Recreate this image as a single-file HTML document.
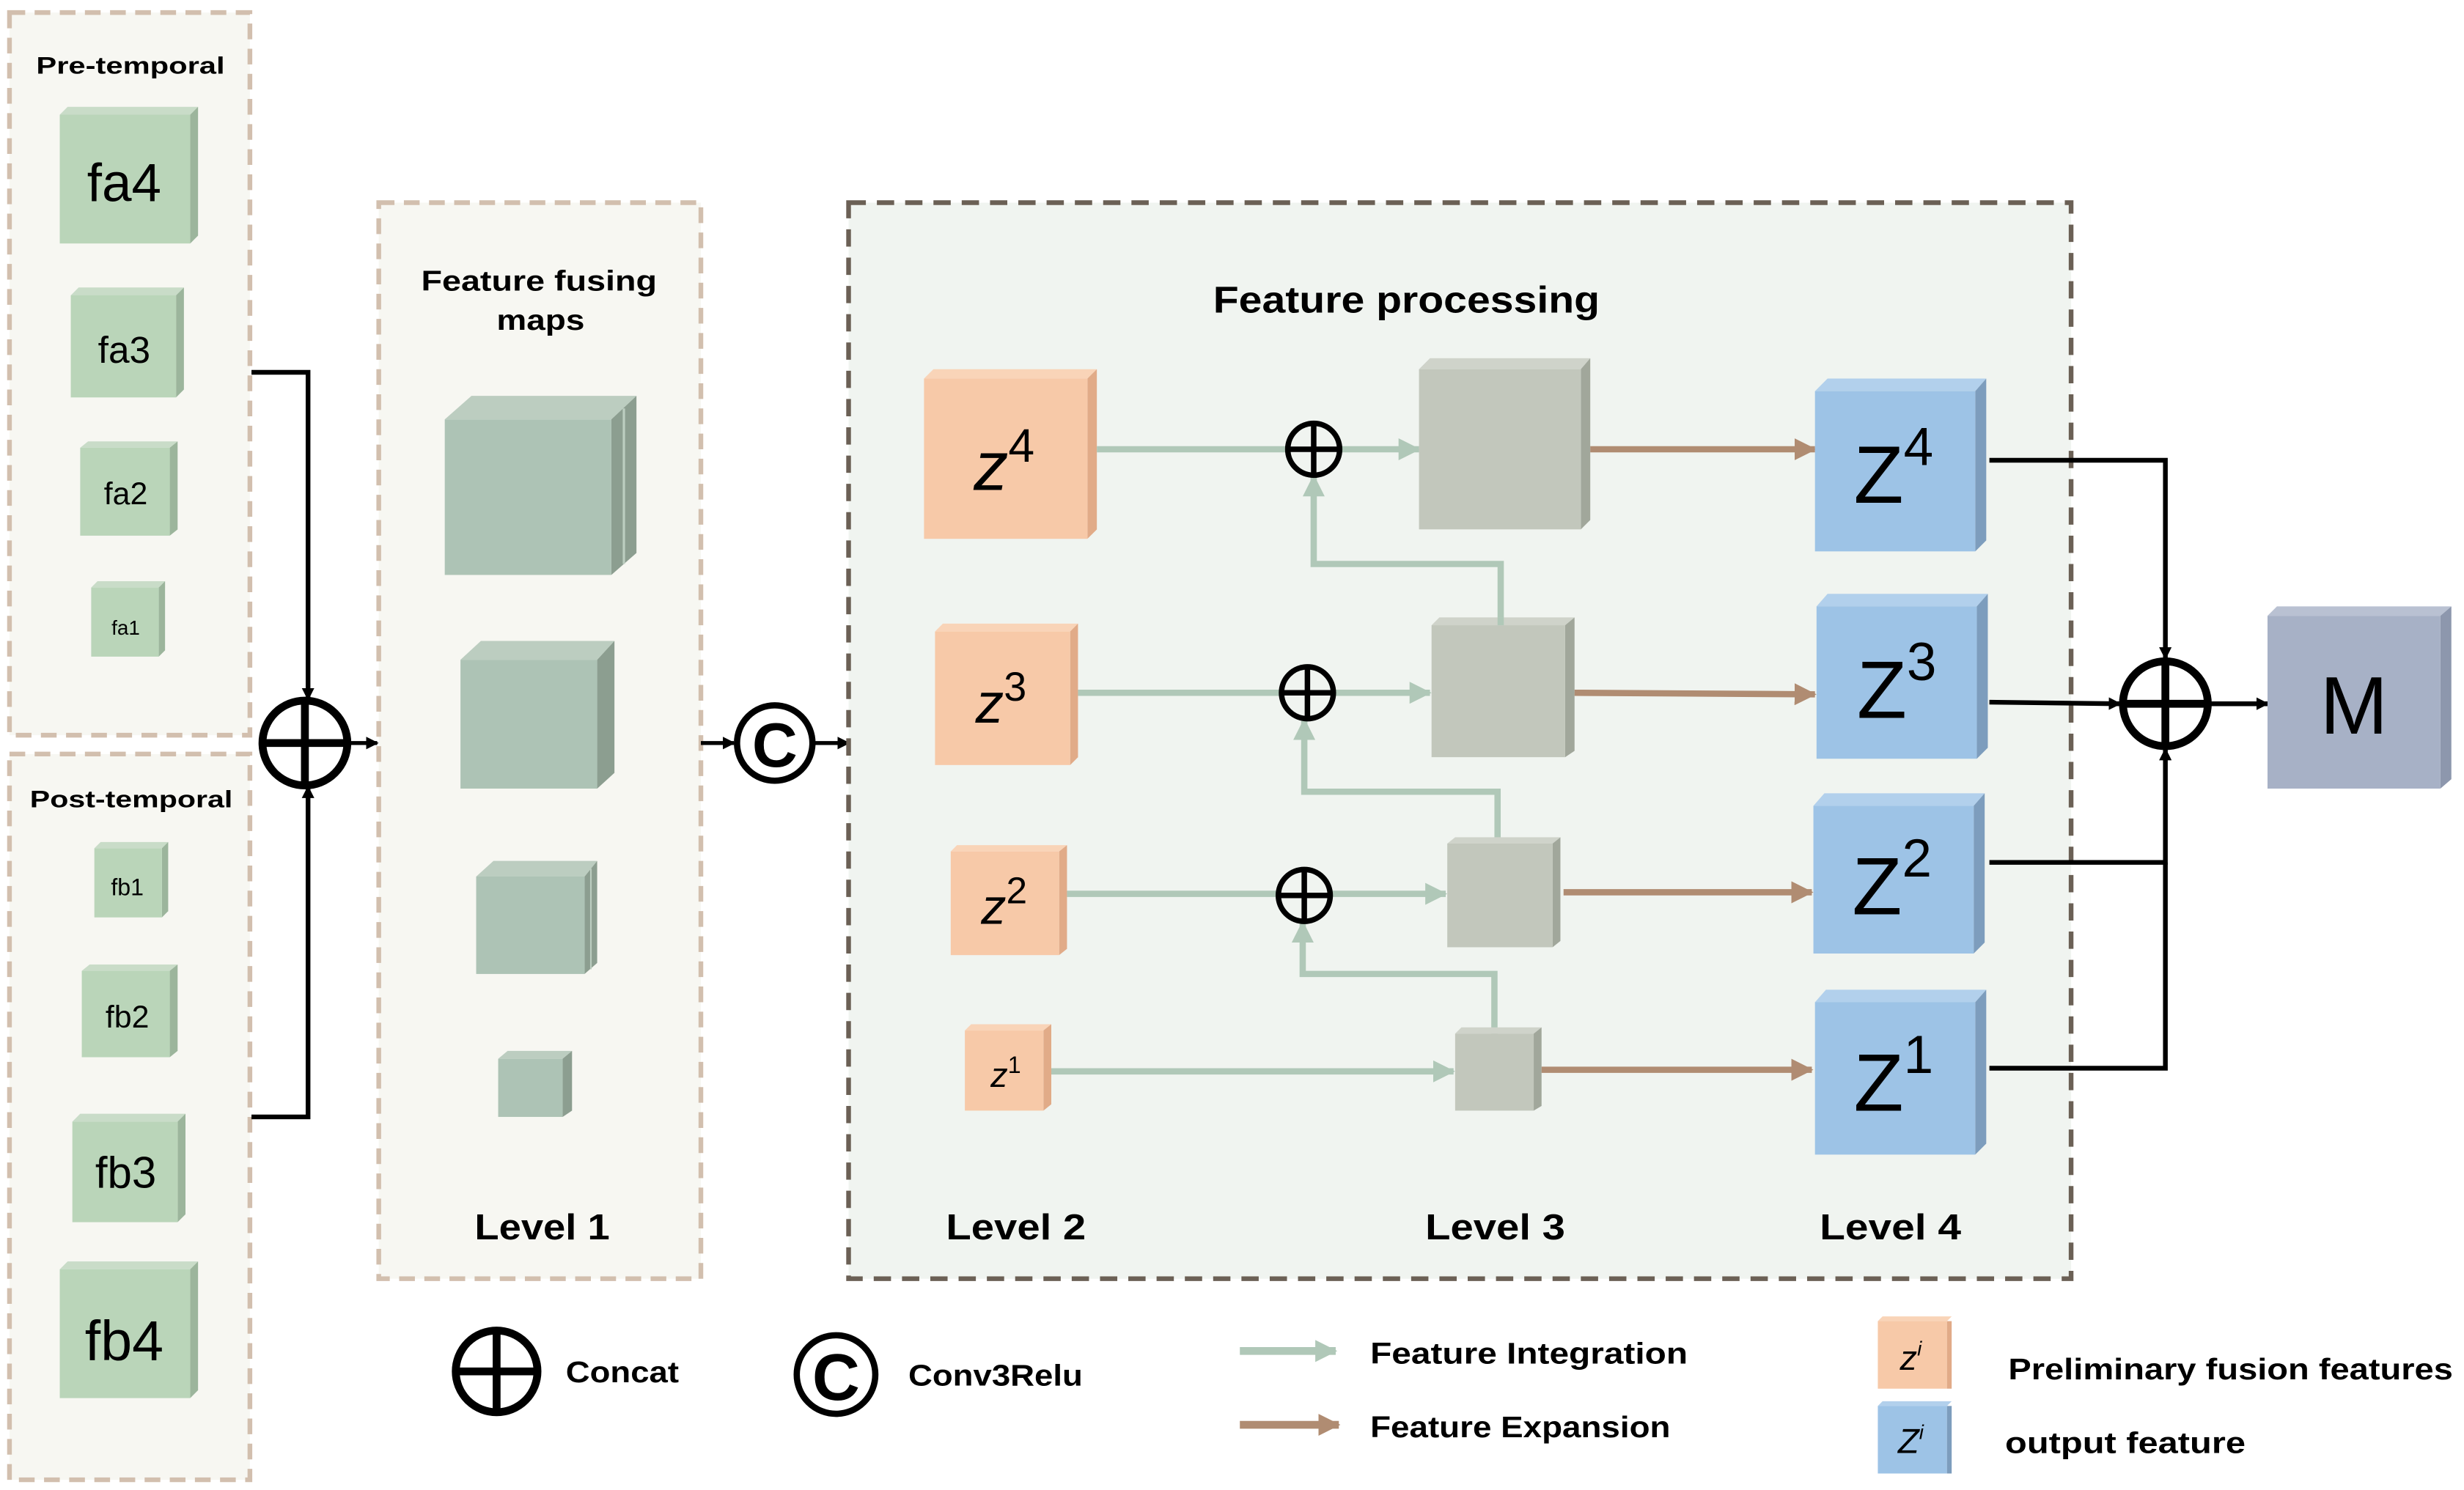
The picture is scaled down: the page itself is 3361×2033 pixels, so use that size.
<!DOCTYPE html>
<html><head><meta charset="utf-8"><style>
html,body{margin:0;padding:0;background:#fff;}
svg{display:block;}
text{font-family:"Liberation Sans",sans-serif;}
.b{font-weight:bold;}
</style></head><body>
<svg width="3361" height="2033" viewBox="0 0 1568 948.5" xmlns="http://www.w3.org/2000/svg">
<defs>
<marker id="ak" markerWidth="8" markerHeight="8" refX="7" refY="4" orient="auto" markerUnits="userSpaceOnUse"><path d="M0,0 L8,4 L0,8 z" fill="#000"/></marker>
<marker id="ag" markerWidth="14" markerHeight="14" refX="13" refY="7" orient="auto" markerUnits="userSpaceOnUse"><path d="M0,0 L14,7 L0,14 z" fill="#b0c8b8"/></marker>
<marker id="ab" markerWidth="14" markerHeight="14" refX="13" refY="7" orient="auto" markerUnits="userSpaceOnUse"><path d="M0,0 L14,7 L0,14 z" fill="#b08c72"/></marker>
</defs>

<rect x="6" y="8" width="153" height="460" fill="#f7f7f2" stroke="#d2bfae" stroke-width="3" stroke-dasharray="10,6"/>
<rect x="6" y="480" width="153" height="462" fill="#f7f7f2" stroke="#d2bfae" stroke-width="3" stroke-dasharray="10,6"/>
<text x="23" y="47" class="b" font-size="15" textLength="120" lengthAdjust="spacingAndGlyphs">Pre-temporal</text>
<text x="19" y="514" class="b" font-size="15" textLength="129" lengthAdjust="spacingAndGlyphs">Post-temporal</text>

<polygon points="38,73 43,68 126,68 121,73" fill="#c9dcc8"/><polygon points="121,73 126,68 126,150 121,155" fill="#9cb59c"/><rect x="38" y="73" width="83" height="82" fill="#bad5b9"/>
<text x="79" y="128" font-size="34" text-anchor="middle">fa4</text>
<polygon points="45,188 50,183 117,183 112,188" fill="#c9dcc8"/><polygon points="112,188 117,183 117,248 112,253" fill="#9cb59c"/><rect x="45" y="188" width="67" height="65" fill="#bad5b9"/>
<text x="79" y="231" font-size="24" text-anchor="middle">fa3</text>
<polygon points="51,285 56,281 113,281 108,285" fill="#c9dcc8"/><polygon points="108,285 113,281 113,337 108,341" fill="#9cb59c"/><rect x="51" y="285" width="57" height="56" fill="#bad5b9"/>
<text x="80" y="321" font-size="20" text-anchor="middle">fa2</text>
<polygon points="58,374 62,370 105,370 101,374" fill="#c9dcc8"/><polygon points="101,374 105,370 105,414 101,418" fill="#9cb59c"/><rect x="58" y="374" width="43" height="44" fill="#bad5b9"/>
<text x="80" y="404" font-size="13" text-anchor="middle">fa1</text>
<polygon points="60,540 64,536 107,536 103,540" fill="#c9dcc8"/><polygon points="103,540 107,536 107,580 103,584" fill="#9cb59c"/><rect x="60" y="540" width="43" height="44" fill="#bad5b9"/>
<text x="81" y="570" font-size="15" text-anchor="middle">fb1</text>
<polygon points="52,618 57,614 113,614 108,618" fill="#c9dcc8"/><polygon points="108,618 113,614 113,669 108,673" fill="#9cb59c"/><rect x="52" y="618" width="56" height="55" fill="#bad5b9"/>
<text x="81" y="654" font-size="20" text-anchor="middle">fb2</text>
<polygon points="46,714 51,709 118,709 113,714" fill="#c9dcc8"/><polygon points="113,714 118,709 118,773 113,778" fill="#9cb59c"/><rect x="46" y="714" width="67" height="64" fill="#bad5b9"/>
<text x="80" y="756" font-size="28" text-anchor="middle">fb3</text>
<polygon points="38,808 43,803 126,803 121,808" fill="#c9dcc8"/><polygon points="121,808 126,803 126,885 121,890" fill="#9cb59c"/><rect x="38" y="808" width="83" height="82" fill="#bad5b9"/>
<text x="79" y="866" font-size="36" text-anchor="middle">fb4</text>

<polyline points="160,237 196,237 196,445" fill="none" stroke="#000" stroke-width="3" marker-end="url(#ak)"/>
<polyline points="160,711 196,711 196,501" fill="none" stroke="#000" stroke-width="3" marker-end="url(#ak)"/>
<circle cx="194" cy="473" r="27" fill="none" stroke="#000" stroke-width="5"/>
<line x1="167" y1="473" x2="221" y2="473" stroke="#000" stroke-width="5"/>
<line x1="194" y1="446" x2="194" y2="500" stroke="#000" stroke-width="5"/>
<line x1="221" y1="473" x2="240" y2="473" stroke="#000" stroke-width="2.5" marker-end="url(#ak)"/>

<rect x="241" y="129" width="205" height="685" fill="#f7f7f2" stroke="#d2bfae" stroke-width="3" stroke-dasharray="10,6"/>
<text x="268" y="185" class="b" font-size="18" textLength="150" lengthAdjust="spacingAndGlyphs">Feature fusing</text>
<text x="316" y="210" class="b" font-size="18" textLength="56" lengthAdjust="spacingAndGlyphs">maps</text>
<polygon points="283,267 300,252 405,252 389,267" fill="#bccdc0"/>
<polygon points="389,267 405,252 405,352 389,366" fill="#8c9e90"/>
<line x1="397" y1="260" x2="397" y2="359" stroke="#bccdc0" stroke-width="1.5"/>
<rect x="283" y="267" width="106" height="99" fill="#adc3b5"/>
<polygon points="293,420 306,408 391,408 380,420" fill="#bccdc0"/>
<polygon points="380,420 391,408 391,492 380,502" fill="#8c9e90"/>
<rect x="293" y="420" width="87" height="82" fill="#adc3b5"/>
<polygon points="303,558 314,548 380,548 372,558" fill="#bccdc0"/>
<polygon points="372,558 380,548 380,613 372,620" fill="#8c9e90"/>
<line x1="376" y1="553" x2="376" y2="617" stroke="#bccdc0" stroke-width="1"/>
<rect x="303" y="558" width="69" height="62" fill="#adc3b5"/>
<polygon points="317,674 323,669 364,669 358,674" fill="#bccdc0"/>
<polygon points="358,674 364,669 364,707 358,711" fill="#8c9e90"/>
<rect x="317" y="674" width="41" height="37" fill="#adc3b5"/>
<text x="302" y="789" class="b" font-size="23" textLength="86" lengthAdjust="spacingAndGlyphs">Level 1</text>

<line x1="446" y1="473" x2="467" y2="473" stroke="#000" stroke-width="2.5" marker-end="url(#ak)"/>
<circle cx="493" cy="473" r="24" fill="#fff" stroke="#000" stroke-width="4"/>
<text x="493" y="488" class="b" font-size="40" text-anchor="middle">C</text>
<line x1="517" y1="473" x2="540" y2="473" stroke="#000" stroke-width="2.5" marker-end="url(#ak)"/>

<rect x="540" y="129" width="778" height="685" fill="#f0f4f0" stroke="#6b6055" stroke-width="3" stroke-dasharray="11,7"/>
<text x="772" y="199" class="b" font-size="24" textLength="246" lengthAdjust="spacingAndGlyphs">Feature processing</text>

<polygon points="588,241 594,235 698,235 692,241" fill="#f9d4b8"/><polygon points="692,241 698,235 698,337 692,343" fill="#e1ab88"/><rect x="588" y="241" width="104" height="102" fill="#f7c9a8"/>
<text x="639" y="312" font-size="44" font-style="italic" text-anchor="middle">z<tspan font-size="30" font-style="normal" dy="-18">4</tspan></text>
<polygon points="595,402 600,397 686,397 681,402" fill="#f9d4b8"/><polygon points="681,402 686,397 686,482 681,487" fill="#e1ab88"/><rect x="595" y="402" width="86" height="85" fill="#f7c9a8"/>
<text x="637" y="460" font-size="36" font-style="italic" text-anchor="middle">z<tspan font-size="26" font-style="normal" dy="-14">3</tspan></text>
<polygon points="605,542 609,538 679,538 674,542" fill="#f9d4b8"/><polygon points="674,542 679,538 679,604 674,608" fill="#e1ab88"/><rect x="605" y="542" width="69" height="66" fill="#f7c9a8"/>
<text x="639" y="588" font-size="32" font-style="italic" text-anchor="middle">z<tspan font-size="24" font-style="normal" dy="-13">2</tspan></text>
<polygon points="614,656 618,652 669,652 664,656" fill="#f9d4b8"/><polygon points="664,656 669,652 669,703 664,707" fill="#e1ab88"/><rect x="614" y="656" width="50" height="51" fill="#f7c9a8"/>
<text x="640" y="692" font-size="22" font-style="italic" text-anchor="middle">z<tspan font-size="15" font-style="normal" dy="-9">1</tspan></text>

<g stroke="#b0c8b8" stroke-width="4" fill="none">
<line x1="698" y1="286" x2="819" y2="286"/>
<line x1="853" y1="286" x2="903" y2="286" marker-end="url(#ag)"/>
<line x1="686" y1="441" x2="815" y2="441"/>
<line x1="849" y1="441" x2="910" y2="441" marker-end="url(#ag)"/>
<line x1="679" y1="569" x2="813" y2="569"/>
<line x1="847" y1="569" x2="920" y2="569" marker-end="url(#ag)"/>
<line x1="669" y1="682" x2="925" y2="682" marker-end="url(#ag)"/>
<polyline points="955,398 955,359 836,359 836,303" marker-end="url(#ag)"/>
<polyline points="953,537 953,504 830,504 830,458" marker-end="url(#ag)"/>
<polyline points="951,658 951,620 829,620 829,587" marker-end="url(#ag)"/>
</g>
<g stroke="#000" stroke-width="3.5" fill="none">
<circle cx="836" cy="286" r="16.5"/><line x1="820" y1="286" x2="852" y2="286"/><line x1="836" y1="270" x2="836" y2="302"/>
<circle cx="832" cy="441" r="16.5"/><line x1="816" y1="441" x2="848" y2="441"/><line x1="832" y1="425" x2="832" y2="457"/>
<circle cx="830" cy="570" r="16.5"/><line x1="814" y1="570" x2="846" y2="570"/><line x1="830" y1="554" x2="830" y2="586"/>
</g>

<polygon points="903,235 910,228 1012,228 1006,235" fill="#cfd3ca"/><polygon points="1006,235 1012,228 1012,331 1006,337" fill="#a1a79b"/><rect x="903" y="235" width="103" height="102" fill="#c2c7bc"/>
<polygon points="911,398 916,393 1002,393 996,398" fill="#cfd3ca"/><polygon points="996,398 1002,393 1002,478 996,482" fill="#a1a79b"/><rect x="911" y="398" width="85" height="84" fill="#c2c7bc"/>
<polygon points="921,537 926,533 993,533 988,537" fill="#cfd3ca"/><polygon points="988,537 993,533 993,599 988,603" fill="#a1a79b"/><rect x="921" y="537" width="67" height="66" fill="#c2c7bc"/>
<polygon points="926,658 930,654 981,654 976,658" fill="#cfd3ca"/><polygon points="976,658 981,654 981,704 976,707" fill="#a1a79b"/><rect x="926" y="658" width="50" height="49" fill="#c2c7bc"/>
<line x1="955" y1="393" x2="955" y2="398" stroke="#b0c8b8" stroke-width="4"/>

<g stroke="#b08c72" stroke-width="4">
<line x1="1012" y1="286" x2="1155" y2="286" marker-end="url(#ab)"/>
<line x1="1002" y1="441" x2="1155" y2="442" marker-end="url(#ab)"/>
<line x1="995" y1="568" x2="1153" y2="568" marker-end="url(#ab)"/>
<line x1="981" y1="681" x2="1153" y2="681" marker-end="url(#ab)"/>
</g>

<polygon points="1155,249 1163,241 1264,241 1257,249" fill="#b2d0ec"/><polygon points="1257,249 1264,241 1264,344 1257,351" fill="#7d9dbd"/><rect x="1155" y="249" width="102" height="102" fill="#9dc3e6"/>
<text x="1205" y="320" font-size="52" text-anchor="middle">Z<tspan font-size="34" dy="-24">4</tspan></text>
<polygon points="1156,386 1163,378 1265,378 1258,386" fill="#b2d0ec"/><polygon points="1258,386 1265,378 1265,476 1258,483" fill="#7d9dbd"/><rect x="1156" y="386" width="102" height="97" fill="#9dc3e6"/>
<text x="1207" y="457" font-size="52" text-anchor="middle">Z<tspan font-size="34" dy="-24">3</tspan></text>
<polygon points="1154,513 1161,505 1263,505 1256,513" fill="#b2d0ec"/><polygon points="1256,513 1263,505 1263,600 1256,607" fill="#7d9dbd"/><rect x="1154" y="513" width="102" height="94" fill="#9dc3e6"/>
<text x="1204" y="582" font-size="52" text-anchor="middle">Z<tspan font-size="34" dy="-24">2</tspan></text>
<polygon points="1155,638 1162,630 1264,630 1257,638" fill="#b2d0ec"/><polygon points="1257,638 1264,630 1264,728 1257,735" fill="#7d9dbd"/><rect x="1155" y="638" width="102" height="97" fill="#9dc3e6"/>
<text x="1205" y="707" font-size="52" text-anchor="middle">Z<tspan font-size="34" dy="-24">1</tspan></text>

<text x="602" y="789" class="b" font-size="23" textLength="89" lengthAdjust="spacingAndGlyphs">Level 2</text>
<text x="907" y="789" class="b" font-size="23" textLength="89" lengthAdjust="spacingAndGlyphs">Level 3</text>
<text x="1158" y="789" class="b" font-size="23" textLength="90" lengthAdjust="spacingAndGlyphs">Level 4</text>

<g stroke="#000" stroke-width="3" fill="none">
<polyline points="1266,293 1378,293 1378,419" marker-end="url(#ak)"/>
<line x1="1266" y1="447" x2="1349" y2="448" marker-end="url(#ak)"/>
<polyline points="1266,549 1378,549 1378,477" marker-end="url(#ak)"/>
<polyline points="1266,680 1378,680 1378,549"/>
<line x1="1406" y1="448" x2="1443" y2="448" marker-end="url(#ak)"/>
</g>
<g stroke="#000" stroke-width="5" fill="none">
<circle cx="1378" cy="448" r="27"/><line x1="1351" y1="448" x2="1405" y2="448"/><line x1="1378" y1="421" x2="1378" y2="475"/>
</g>

<polygon points="1443,392 1449,386 1560,386 1553,392" fill="#b9c1d2"/><polygon points="1553,392 1560,386 1560,496 1553,502" fill="#8d97ad"/><rect x="1443" y="392" width="110" height="110" fill="#a7b1c6"/>
<text x="1498" y="467" font-size="52" text-anchor="middle">M</text>

<g stroke="#000" stroke-width="5" fill="none">
<circle cx="316" cy="873" r="26"/><line x1="290" y1="873" x2="342" y2="873"/><line x1="316" y1="847" x2="316" y2="899"/>
</g>
<text x="360" y="880" class="b" font-size="19" textLength="72" lengthAdjust="spacingAndGlyphs">Concat</text>
<circle cx="532" cy="875" r="25" fill="#fff" stroke="#000" stroke-width="4"/>
<text x="532" y="891" class="b" font-size="42" text-anchor="middle">C</text>
<text x="578" y="882" class="b" font-size="19" textLength="111" lengthAdjust="spacingAndGlyphs">Conv3Relu</text>
<line x1="789" y1="860" x2="850" y2="860" stroke="#b0c8b8" stroke-width="5" marker-end="url(#ag)"/>
<line x1="789" y1="907" x2="852" y2="907" stroke="#b08c72" stroke-width="5" marker-end="url(#ab)"/>
<text x="872" y="868" class="b" font-size="19" textLength="202" lengthAdjust="spacingAndGlyphs">Feature Integration</text>
<text x="872" y="915" class="b" font-size="19" textLength="191" lengthAdjust="spacingAndGlyphs">Feature Expansion</text>
<polygon points="1195,841 1198,838 1242,838 1239,841" fill="#f9d4b8"/><rect x="1195" y="841" width="44" height="43" fill="#f7c9a8"/><rect x="1239" y="841" width="3" height="43" fill="#e1ab88"/>
<text x="1216" y="872" font-size="22" font-style="italic" text-anchor="middle">z<tspan font-size="13" dy="-9">i</tspan></text>
<polygon points="1195,895 1198,892 1242,892 1239,895" fill="#b2d0ec"/><rect x="1195" y="895" width="44" height="43" fill="#9dc3e6"/><rect x="1239" y="895" width="3" height="43" fill="#7d9dbd"/>
<text x="1216" y="925" font-size="22" font-style="italic" text-anchor="middle">Z<tspan font-size="13" dy="-9">i</tspan></text>
<text x="1278" y="878" class="b" font-size="19" textLength="283" lengthAdjust="spacingAndGlyphs">Preliminary fusion features</text>
<text x="1276" y="925" class="b" font-size="19" textLength="153" lengthAdjust="spacingAndGlyphs">output feature</text>
</svg>
</body></html>
